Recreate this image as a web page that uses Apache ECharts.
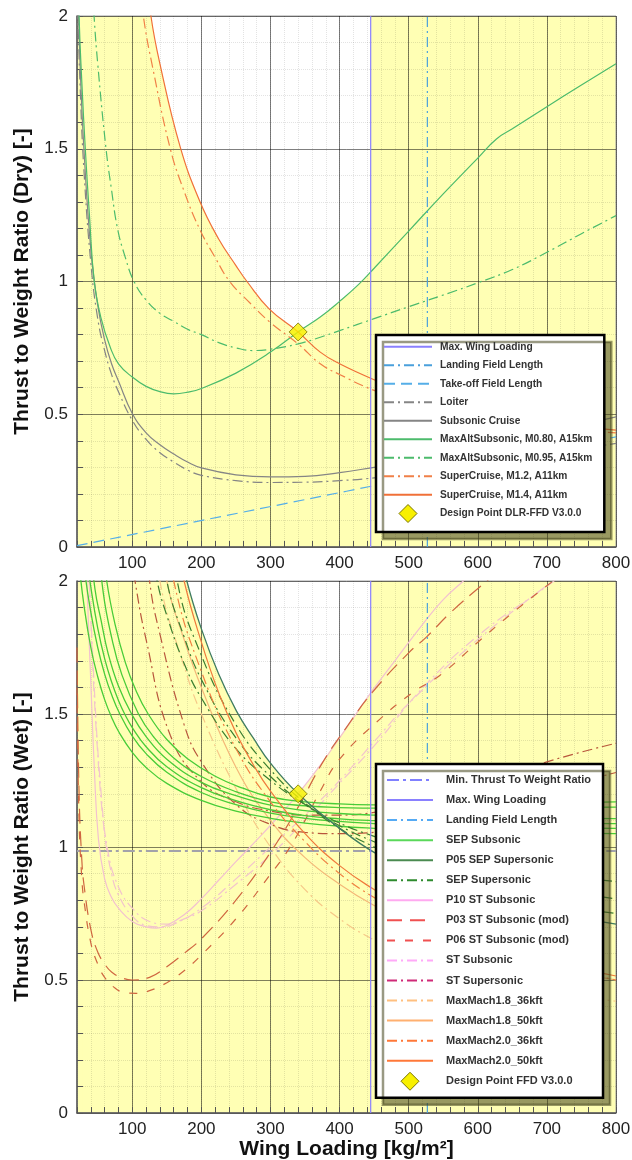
<!DOCTYPE html>
<html>
<head>
<meta charset="utf-8">
<script src="https://cdn.jsdelivr.net/npm/echarts@6/dist/echarts.min.js"></script>
<style>
  html, body { margin: 0; padding: 0; background: #fff; }
  #chart { width: 632px; height: 1160px; }
</style>
</head>
<body>
<div id="chart"></div>
<script>
// axis ranges and tick labels
var xMin = 20, xMax = 800, yMin = 0, yMax = 2;
var xTickLabels = [100, 200, 300, 400, 500, 600, 700, 800];
var yTickLabels = [0, 0.5, 1, 1.5, 2];
var maxWingLoading = 445;
var landingFieldLength = 527;

// ---- dry (upper) panel ----
var dryTakeOff = [[20, 0.005], [800, 0.415]];
var dryLoiter = [[20, 2.1], [25, 1.7], [30, 1.42], [40, 1.07], [50, 0.86], [60, 0.74], [70, 0.65], [80, 0.585], [100, 0.477], [120, 0.405], [140, 0.355], [160, 0.32], [180, 0.29], [200, 0.27], [250, 0.25], [300, 0.243], [350, 0.244], [400, 0.25], [450, 0.26], [500, 0.275], [600, 0.31], [700, 0.35], [800, 0.39]];
var drySubsonicCruise = [[20, 2.2], [25, 1.78], [30, 1.5], [40, 1.12], [50, 0.91], [60, 0.78], [70, 0.69], [80, 0.625], [100, 0.503], [120, 0.43], [140, 0.385], [160, 0.35], [180, 0.32], [200, 0.298], [250, 0.272], [300, 0.264], [350, 0.266], [400, 0.28], [450, 0.3], [500, 0.32], [600, 0.37], [700, 0.43], [800, 0.49]];
var dryMaxAltM080 = [[20, 2.4], [23, 2.0], [27, 1.75], [32, 1.5], [38, 1.25], [45, 1.0], [55, 0.86], [68, 0.753], [80, 0.69], [100, 0.64], [120, 0.605], [140, 0.585], [160, 0.577], [180, 0.583], [200, 0.597], [250, 0.655], [300, 0.734], [340, 0.81], [372, 0.866], [400, 0.925], [428, 0.99], [450, 1.05], [500, 1.19], [550, 1.33], [600, 1.465], [627, 1.537], [650, 1.575], [700, 1.658], [750, 1.74], [800, 1.82]];
var dryMaxAltM095 = [[20, 4.2], [30, 2.88], [38, 2.3], [44.7, 2.0], [50, 1.82], [62, 1.5], [70, 1.345], [78.6, 1.2], [90, 1.09], [102.5, 1.0], [120, 0.93], [140, 0.88], [160, 0.85], [180, 0.82], [200, 0.8], [225, 0.77], [250, 0.75], [275, 0.74], [300, 0.745], [340, 0.765], [372, 0.79], [400, 0.815], [450, 0.86], [500, 0.905], [569, 0.966], [600, 0.995], [650, 1.045], [700, 1.11], [750, 1.18], [800, 1.248]];
var drySuperM12 = [[40, 5.75], [60, 3.9], [80, 2.95], [100, 2.35], [116, 2.0], [130, 1.8], [155, 1.5], [175, 1.34], [197, 1.2], [220, 1.09], [241, 1.0], [270, 0.92], [300, 0.845], [340, 0.765], [372, 0.69], [400, 0.65], [450, 0.59], [500, 0.55], [600, 0.49], [700, 0.45], [800, 0.43]];
var drySuperM14 = [[40, 6.3], [60, 4.25], [80, 3.2], [100, 2.55], [127, 2.0], [140, 1.82], [169, 1.51], [198, 1.3], [225, 1.16], [250, 1.06], [266, 1.0], [298, 0.897], [340, 0.81], [372, 0.734], [400, 0.69], [450, 0.63], [500, 0.58], [600, 0.515], [700, 0.47], [800, 0.44]];
var dryDesignPoint = [[340, 0.81]];

// ---- wet (lower) panel ----
var wetMinTW = [[20, 0.985], [800, 0.985]];
var wetSepSubsonic = [
  [[20, 2.15], [24, 2.04], [30, 1.91], [40, 1.75], [50, 1.64], [60, 1.554], [70, 1.488], [80, 1.435], [100, 1.356], [120, 1.299], [150, 1.239], [200, 1.175], [250, 1.135], [300, 1.108], [350, 1.09], [400, 1.078], [450, 1.07], [500, 1.064], [600, 1.057], [700, 1.053], [800, 1.05]],
  [[22, 2.3], [31.6, 2.03], [40, 1.883], [50, 1.75], [60, 1.65], [70, 1.573], [82, 1.5], [100, 1.417], [120, 1.351], [150, 1.281], [200, 1.205], [250, 1.159], [300, 1.127], [350, 1.108], [400, 1.096], [450, 1.088], [500, 1.082], [600, 1.076], [700, 1.072], [800, 1.07]],
  [[28, 2.3], [35, 2.08], [41, 1.96], [50, 1.823], [60, 1.708], [70, 1.621], [80, 1.551], [89, 1.5], [100, 1.449], [120, 1.377], [150, 1.302], [200, 1.223], [250, 1.174], [300, 1.14], [350, 1.118], [400, 1.106], [450, 1.099], [500, 1.095], [600, 1.091], [700, 1.089], [800, 1.088]],
  [[32, 2.3], [46, 1.97], [55, 1.85], [65, 1.728], [80, 1.605], [99, 1.5], [120, 1.415], [150, 1.33], [200, 1.243], [250, 1.193], [300, 1.157], [350, 1.137], [400, 1.126], [450, 1.12], [500, 1.116], [600, 1.112], [700, 1.109], [800, 1.107]],
  [[42, 2.35], [58, 1.956], [70, 1.789], [85, 1.647], [109, 1.5], [130, 1.417], [160, 1.335], [200, 1.265], [250, 1.208], [300, 1.17], [350, 1.155], [400, 1.148], [450, 1.146], [500, 1.145], [600, 1.146], [700, 1.148], [800, 1.15]],
  [[50, 2.27], [63, 2.0], [75, 1.838], [90, 1.693], [105, 1.59], [123, 1.5], [150, 1.404], [180, 1.332], [220, 1.266], [260, 1.221], [300, 1.188], [350, 1.17], [400, 1.162], [450, 1.158], [500, 1.157], [600, 1.16], [700, 1.165], [800, 1.17]]
];
var wetP05SepSupersonic = [[100, 3.33], [150, 2.33], [179, 2.0], [200, 1.82], [225, 1.65], [251, 1.51], [275, 1.41], [300, 1.315], [340, 1.2], [400, 1.07], [450, 0.98], [500, 0.92], [600, 0.83], [700, 0.76], [800, 0.71]];
var wetSepSupersonic = [
  [[100, 2.5], [136, 2.0], [150, 1.87], [175, 1.69], [200, 1.56], [250, 1.37], [300, 1.25], [350, 1.16], [400, 1.09], [450, 1.04], [500, 1.0], [600, 0.94], [700, 0.9], [800, 0.87]],
  [[100, 2.73], [150, 2.0], [175, 1.79], [200, 1.63], [250, 1.41], [300, 1.265], [350, 1.16], [400, 1.08], [450, 1.02], [500, 0.97], [600, 0.9], [700, 0.845], [800, 0.805]],
  [[100, 3.03], [165, 2.0], [200, 1.72], [250, 1.46], [300, 1.29], [350, 1.165], [400, 1.07], [450, 1.0], [500, 0.94], [600, 0.855], [700, 0.79], [800, 0.75]]
];
var wetP10StSubsonic = [[25, 2.9], [30, 2.35], [35, 1.95], [40, 1.62], [45, 1.3], [51, 1.03], [60, 0.88], [70, 0.81], [80, 0.77], [100, 0.72], [120, 0.7], [135, 0.695], [150, 0.705], [175, 0.745], [198, 0.8], [225, 0.875], [250, 0.945], [280, 1.026], [310, 1.11], [340, 1.2], [370, 1.3], [400, 1.41], [446, 1.583], [480, 1.7], [521, 1.84], [550, 1.93], [579, 2.0], [620, 2.1]];
var wetP03StSubsonic = [[20, 1.75], [23, 1.2], [27, 0.95], [30, 0.86], [40, 0.69], [50, 0.605], [60, 0.56], [70, 0.53], [85, 0.508], [100, 0.5], [125, 0.51], [150, 0.55], [175, 0.6], [200, 0.655], [250, 0.8], [300, 0.98], [340, 1.15], [376, 1.32], [410, 1.45], [447, 1.58], [500, 1.73], [526, 1.79], [560, 1.88], [613, 2.0], [650, 2.08]];
var wetP06StSubsonic = [[20, 1.6], [23, 1.1], [27, 0.88], [30, 0.8], [40, 0.64], [50, 0.56], [60, 0.51], [75, 0.47], [90, 0.452], [106, 0.45], [125, 0.46], [150, 0.49], [175, 0.535], [200, 0.594], [250, 0.73], [299, 0.894], [326, 0.99], [350, 1.1], [372, 1.21], [400, 1.33], [458, 1.48], [507, 1.583], [545, 1.645], [600, 1.77], [650, 1.88], [709, 2.0]];
var wetStSubsonic = [
  [[30, 2.6], [40, 1.85], [50, 1.35], [60, 1.05], [70, 0.9], [80, 0.82], [100, 0.74], [120, 0.705], [140, 0.7], [160, 0.71], [200, 0.77], [250, 0.88], [300, 1.0], [350, 1.12], [400, 1.25], [458, 1.42], [500, 1.54], [600, 1.78], [709, 2.0]],
  [[35, 2.2], [45, 1.6], [55, 1.2], [65, 0.98], [80, 0.85], [100, 0.77], [125, 0.72], [150, 0.71], [175, 0.73], [200, 0.76], [250, 0.86], [300, 0.97], [350, 1.1], [400, 1.24], [450, 1.38], [521, 1.6], [603, 1.8], [700, 1.98], [720, 2.02]]
];
var wetStSupersonic = [
  [[60, 3.3], [70, 2.85], [80, 2.5], [90, 2.25], [104, 2.0], [120, 1.78], [155, 1.42], [200, 1.245], [250, 1.17], [300, 1.135], [350, 1.12], [400, 1.12], [450, 1.13], [500, 1.155], [600, 1.23], [700, 1.32], [800, 1.39]],
  [[80, 3.3], [100, 2.6], [125, 2.0], [140, 1.8], [175, 1.46], [200, 1.32], [250, 1.16], [300, 1.085], [350, 1.055], [400, 1.05], [450, 1.055], [500, 1.07], [600, 1.13], [700, 1.21], [800, 1.28]]
];
var wetMaxMach18_36 = [[100, 2.75], [140, 2.0], [175, 1.68], [200, 1.5], [250, 1.22], [300, 1.0], [350, 0.84], [400, 0.73], [450, 0.65], [500, 0.59], [600, 0.51], [700, 0.46], [800, 0.42]];
var wetMaxMach18_50 = [[110, 2.7], [150, 2.0], [175, 1.78], [200, 1.6], [250, 1.3], [300, 1.1], [350, 0.96], [400, 0.86], [450, 0.78], [500, 0.72], [600, 0.62], [700, 0.55], [800, 0.5]];
var wetMaxMach20_36 = [[120, 2.6], [160, 2.0], [200, 1.66], [250, 1.37], [300, 1.17], [350, 1.02], [400, 0.9], [450, 0.81], [500, 0.74], [600, 0.63], [700, 0.56], [800, 0.5]];
var wetMaxMach20_50 = [[120, 2.87], [150, 2.32], [175, 2.0], [200, 1.77], [225, 1.58], [250, 1.43], [275, 1.31], [300, 1.21], [350, 1.05], [400, 0.93], [450, 0.84], [500, 0.765], [600, 0.655], [700, 0.575], [800, 0.515]];
var wetDesignPoint = [[340, 1.2]];

var YELLOW = '#ffffb4';
var FONT = '"Liberation Sans", Arial, sans-serif';
var DASH = [11, 6];
var DASHDOT = [10, 4, 2, 4];
var LONGDASH = [15, 8];
var SHORTDASH = [8, 10];

var series = [];

function addCurve(panel, name, data, color, type, width) {
  var common = {
    type: 'line', xAxisIndex: panel * 2, yAxisIndex: panel, data: data,
    smooth: 0.45, symbol: 'none', showSymbol: false, silent: true
  };
  // opaque yellow fill below each constraint -> union = infeasible region
  series.push(Object.assign({}, common, {
    name: 'fill', z: 1,
    lineStyle: { width: 0, opacity: 0 },
    areaStyle: { color: YELLOW, opacity: 1 }
  }));
  series.push(Object.assign({}, common, {
    name: name, z: 3,
    lineStyle: { color: color, width: width || 1.2, type: type || 'solid' },
    itemStyle: { color: color }
  }));
}

function addVertical(panel, name, xValue, color, type) {
  series.push({
    type: 'line', name: name, xAxisIndex: panel * 2, yAxisIndex: panel,
    data: [[xValue, yMin], [xValue, yMax]], symbol: 'none', showSymbol: false, silent: true, z: 3,
    lineStyle: { color: color, width: 1.2, type: type || 'solid' },
    itemStyle: { color: color }
  });
}

function addRightArea(panel) {
  series.push({
    type: 'line', name: 'fill', xAxisIndex: panel * 2, yAxisIndex: panel, data: [], z: 1, silent: true,
    markArea: {
      silent: true,
      itemStyle: { color: YELLOW, opacity: 1, borderWidth: 0 },
      data: [[{ xAxis: maxWingLoading, yAxis: yMin }, { xAxis: xMax, yAxis: yMax }]]
    }
  });
}

function addPoint(panel, name, data) {
  series.push({
    type: 'scatter', name: name, xAxisIndex: panel * 2, yAxisIndex: panel, data: data,
    symbol: 'diamond', symbolSize: 18, z: 5, silent: true,
    itemStyle: { color: '#f8f000', borderColor: '#7a7400', borderWidth: 1 }
  });
}

// upper panel
addRightArea(0);
addCurve(0, 'Take-off Field Length', dryTakeOff, '#55aee8', DASH);
addCurve(0, 'Loiter', dryLoiter, '#858585', DASHDOT);
addCurve(0, 'Subsonic Cruise', drySubsonicCruise, '#858585');
addCurve(0, 'MaxAltSubsonic, M0.80, A15km', dryMaxAltM080, '#4cbb6c');
addCurve(0, 'MaxAltSubsonic, M0.95, A15km', dryMaxAltM095, '#4cbb6c', DASHDOT);
addCurve(0, 'SuperCruise, M1.2, A11km', drySuperM12, '#f08048', DASHDOT);
addCurve(0, 'SuperCruise, M1.4, A11km', drySuperM14, '#f07038');
addVertical(0, 'Max. Wing Loading', maxWingLoading, '#8a80ff');
addVertical(0, 'Landing Field Length', landingFieldLength, '#4aa0dc', DASHDOT);
addPoint(0, 'Design Point DLR-FFD V3.0.0', dryDesignPoint);

// lower panel (plot colours are the muted tones seen over the yellow)
addRightArea(1);
addCurve(1, 'Min. Thrust To Weight Ratio', wetMinTW, '#a2a2aa', [12, 4, 3, 4], 2);
wetStSubsonic.forEach(function (d) { addCurve(1, 'ST Subsonic', d, '#f2c4cc', DASHDOT); });
addCurve(1, 'P10 ST Subsonic', wetP10StSubsonic, '#f2c0d0');
addCurve(1, 'MaxMach1.8_36kft', wetMaxMach18_36, '#f6c888', DASHDOT);
addCurve(1, 'MaxMach1.8_50kft', wetMaxMach18_50, '#f4b878');
addCurve(1, 'P03 ST Subsonic (mod)', wetP03StSubsonic, '#cf6640', LONGDASH);
addCurve(1, 'P06 ST Subsonic (mod)', wetP06StSubsonic, '#cf6640', SHORTDASH);
wetStSupersonic.forEach(function (d) { addCurve(1, 'ST Supersonic', d, '#b8563c', DASHDOT); });
wetSepSubsonic.forEach(function (d) { addCurve(1, 'SEP Subsonic', d, '#48cc38', 'solid', 1.3); });
wetSepSupersonic.forEach(function (d) { addCurve(1, 'SEP Supersonic', d, '#3a7e30', DASHDOT); });
addCurve(1, 'MaxMach2.0_36kft', wetMaxMach20_36, '#f08040', DASHDOT);
addCurve(1, 'MaxMach2.0_50kft', wetMaxMach20_50, '#f07a3c');
addCurve(1, 'P05 SEP Supersonic', wetP05SepSupersonic, '#3f7c60', 'solid', 1.3);
addVertical(1, 'Max. Wing Loading', maxWingLoading, '#8a80ff');
addVertical(1, 'Landing Field Length', landingFieldLength, '#4aa0dc', DASHDOT);
addPoint(1, 'Design Point FFD V3.0.0', wetDesignPoint);

function xAxes(gridIndex, withTitle) {
  var main = {
    type: 'value', gridIndex: gridIndex, min: xMin, max: xMax, interval: 20, z: 2,
    axisLine: { show: true, onZero: false, lineStyle: { color: '#555', width: 1.5 } },
    axisTick: { show: true, inside: true, length: 6, lineStyle: { color: '#555' } },
    axisLabel: {
      fontSize: 17, color: '#222', fontFamily: FONT, margin: 8,
      formatter: function (v) { return xTickLabels.indexOf(Math.round(v)) >= 0 ? String(Math.round(v)) : ''; }
    },
    splitLine: { show: true, lineStyle: { color: 'rgba(0,0,0,0.11)', type: 'dotted', width: 1 } }
  };
  if (withTitle) {
    main.name = 'Wing Loading [kg/m²]';
    main.nameLocation = 'middle';
    main.nameGap = 19;
    main.nameTextStyle = { fontSize: 21, fontWeight: 'bold', color: '#111', fontFamily: FONT };
  }
  var major = {
    type: 'value', gridIndex: gridIndex, min: xMin, max: xMax, z: 2,
    axisLine: { show: false }, axisLabel: { show: false },
    axisTick: { show: false, customValues: xTickLabels },
    splitLine: { show: true, lineStyle: { color: 'rgba(0,0,0,0.5)', width: 1 } }
  };
  return [main, major];
}

function yAxis(gridIndex, title) {
  return {
    type: 'value', gridIndex: gridIndex, min: yMin, max: yMax, interval: 0.5, z: 2,
    name: title, nameLocation: 'middle', nameGap: 44,
    nameTextStyle: { fontSize: 21, fontWeight: 'bold', color: '#111', fontFamily: FONT },
    axisLine: { show: true, lineStyle: { color: '#555', width: 1.5 } },
    axisTick: { show: true, inside: true, length: 6, lineStyle: { color: '#555' } },
    minorTick: { show: true, splitNumber: 5, length: 6, lineStyle: { color: '#555' } },
    axisLabel: { fontSize: 17, color: '#222', fontFamily: FONT, margin: 9 },
    splitLine: { show: true, lineStyle: { color: 'rgba(0,0,0,0.5)', width: 1 } },
    minorSplitLine: { show: true, lineStyle: { color: 'rgba(0,0,0,0.11)', type: 'dotted', width: 1 } }
  };
}

function legend(names, top, rowHeight, fontSize, itemWidth, gap, padding, textPad) {
  return {
    data: names, orient: 'vertical', left: 376, top: top,
    itemWidth: itemWidth, itemHeight: rowHeight, itemGap: gap, padding: padding,
    backgroundColor: '#fff', borderColor: '#000', borderWidth: 2.5, borderRadius: 0,
    shadowColor: 'rgba(70,70,30,0.55)', shadowOffsetX: 7, shadowOffsetY: 7, shadowBlur: 0,
    symbolKeepAspect: true,
    itemStyle: { opacity: 0 },
    lineStyle: { width: 2 },
    selectedMode: false, z: 10,
    textStyle: {
      fontSize: fontSize, fontWeight: 'bold', color: '#333', fontFamily: FONT,
      lineHeight: rowHeight, padding: [0, 0, 0, textPad]
    }
  };
}

function lg(name, color) {
  return { name: name, lineStyle: { color: color } };
}
// diamond centred in an icon box of the legend's item size
function lgPoint(name, w, h) {
  var c = w / 2, r = h / 2;
  var icon = 'path://M0,0 M' + w + ',' + h + ' M' + (c - r) + ',' + r + ' L' + c + ',0 L' + (c + r) + ',' + r + ' L' + c + ',' + h + ' Z';
  return { name: name, icon: icon, itemStyle: { opacity: 1, color: '#f8f000', borderColor: '#7a7400', borderWidth: 1 } };
}

var dryNames = ['Max. Wing Loading', 'Landing Field Length', 'Take-off Field Length', 'Loiter', 'Subsonic Cruise',
  'MaxAltSubsonic, M0.80, A15km', 'MaxAltSubsonic, M0.95, A15km', 'SuperCruise, M1.2, A11km', 'SuperCruise, M1.4, A11km',
  lgPoint('Design Point DLR-FFD V3.0.0', 48, 18)];
var wetNames = [lg('Min. Thrust To Weight Ratio', '#8080ff'), 'Max. Wing Loading', lg('Landing Field Length', '#55aaf4'),
  lg('SEP Subsonic', '#5ad85a'), lg('P05 SEP Supersonic', '#4a8a50'), lg('SEP Supersonic', '#2e8b2e'),
  lg('P10 ST Subsonic', '#ffaaf0'), lg('P03 ST Subsonic (mod)', '#f05050'), lg('P06 ST Subsonic (mod)', '#f05050'),
  lg('ST Subsonic', '#ffaaf8'), lg('ST Supersonic', '#d02a78'), lg('MaxMach1.8_36kft', '#ffc080'),
  lg('MaxMach1.8_50kft', '#ffb070'), lg('MaxMach2.0_36kft', '#ff7838'), lg('MaxMach2.0_50kft', '#ff7838'),
  lgPoint('Design Point FFD V3.0.0', 46, 18)];

var option = {
  animation: false,
  backgroundColor: '#fff',
  grid: [
    { left: 77, top: 16, width: 539, height: 531, show: true, borderColor: '#a0a0a0', borderWidth: 1, backgroundColor: 'transparent', z: 2, outerBoundsMode: 'none' },
    { left: 77, top: 581, width: 539, height: 532, show: true, borderColor: '#a0a0a0', borderWidth: 1, backgroundColor: 'transparent', z: 2, outerBoundsMode: 'none' }
  ],
  xAxis: xAxes(0, false).concat(xAxes(1, true)),
  yAxis: [yAxis(0, 'Thrust to Weight Ratio (Dry) [-]'), yAxis(1, 'Thrust to Weight Ratio (Wet) [-]')],
  legend: [
    legend(dryNames, 335, 18.5, 10.2, 48, 0, [2.5, 12, 9, 7], 3),
    legend(wetNames, 764, 18, 11, 46, 2.05, [7, 12, 7, 10], 8)
  ],
  series: series
};

var chart = echarts.init(document.getElementById('chart'));
chart.setOption(option);
</script>
</body>
</html>
